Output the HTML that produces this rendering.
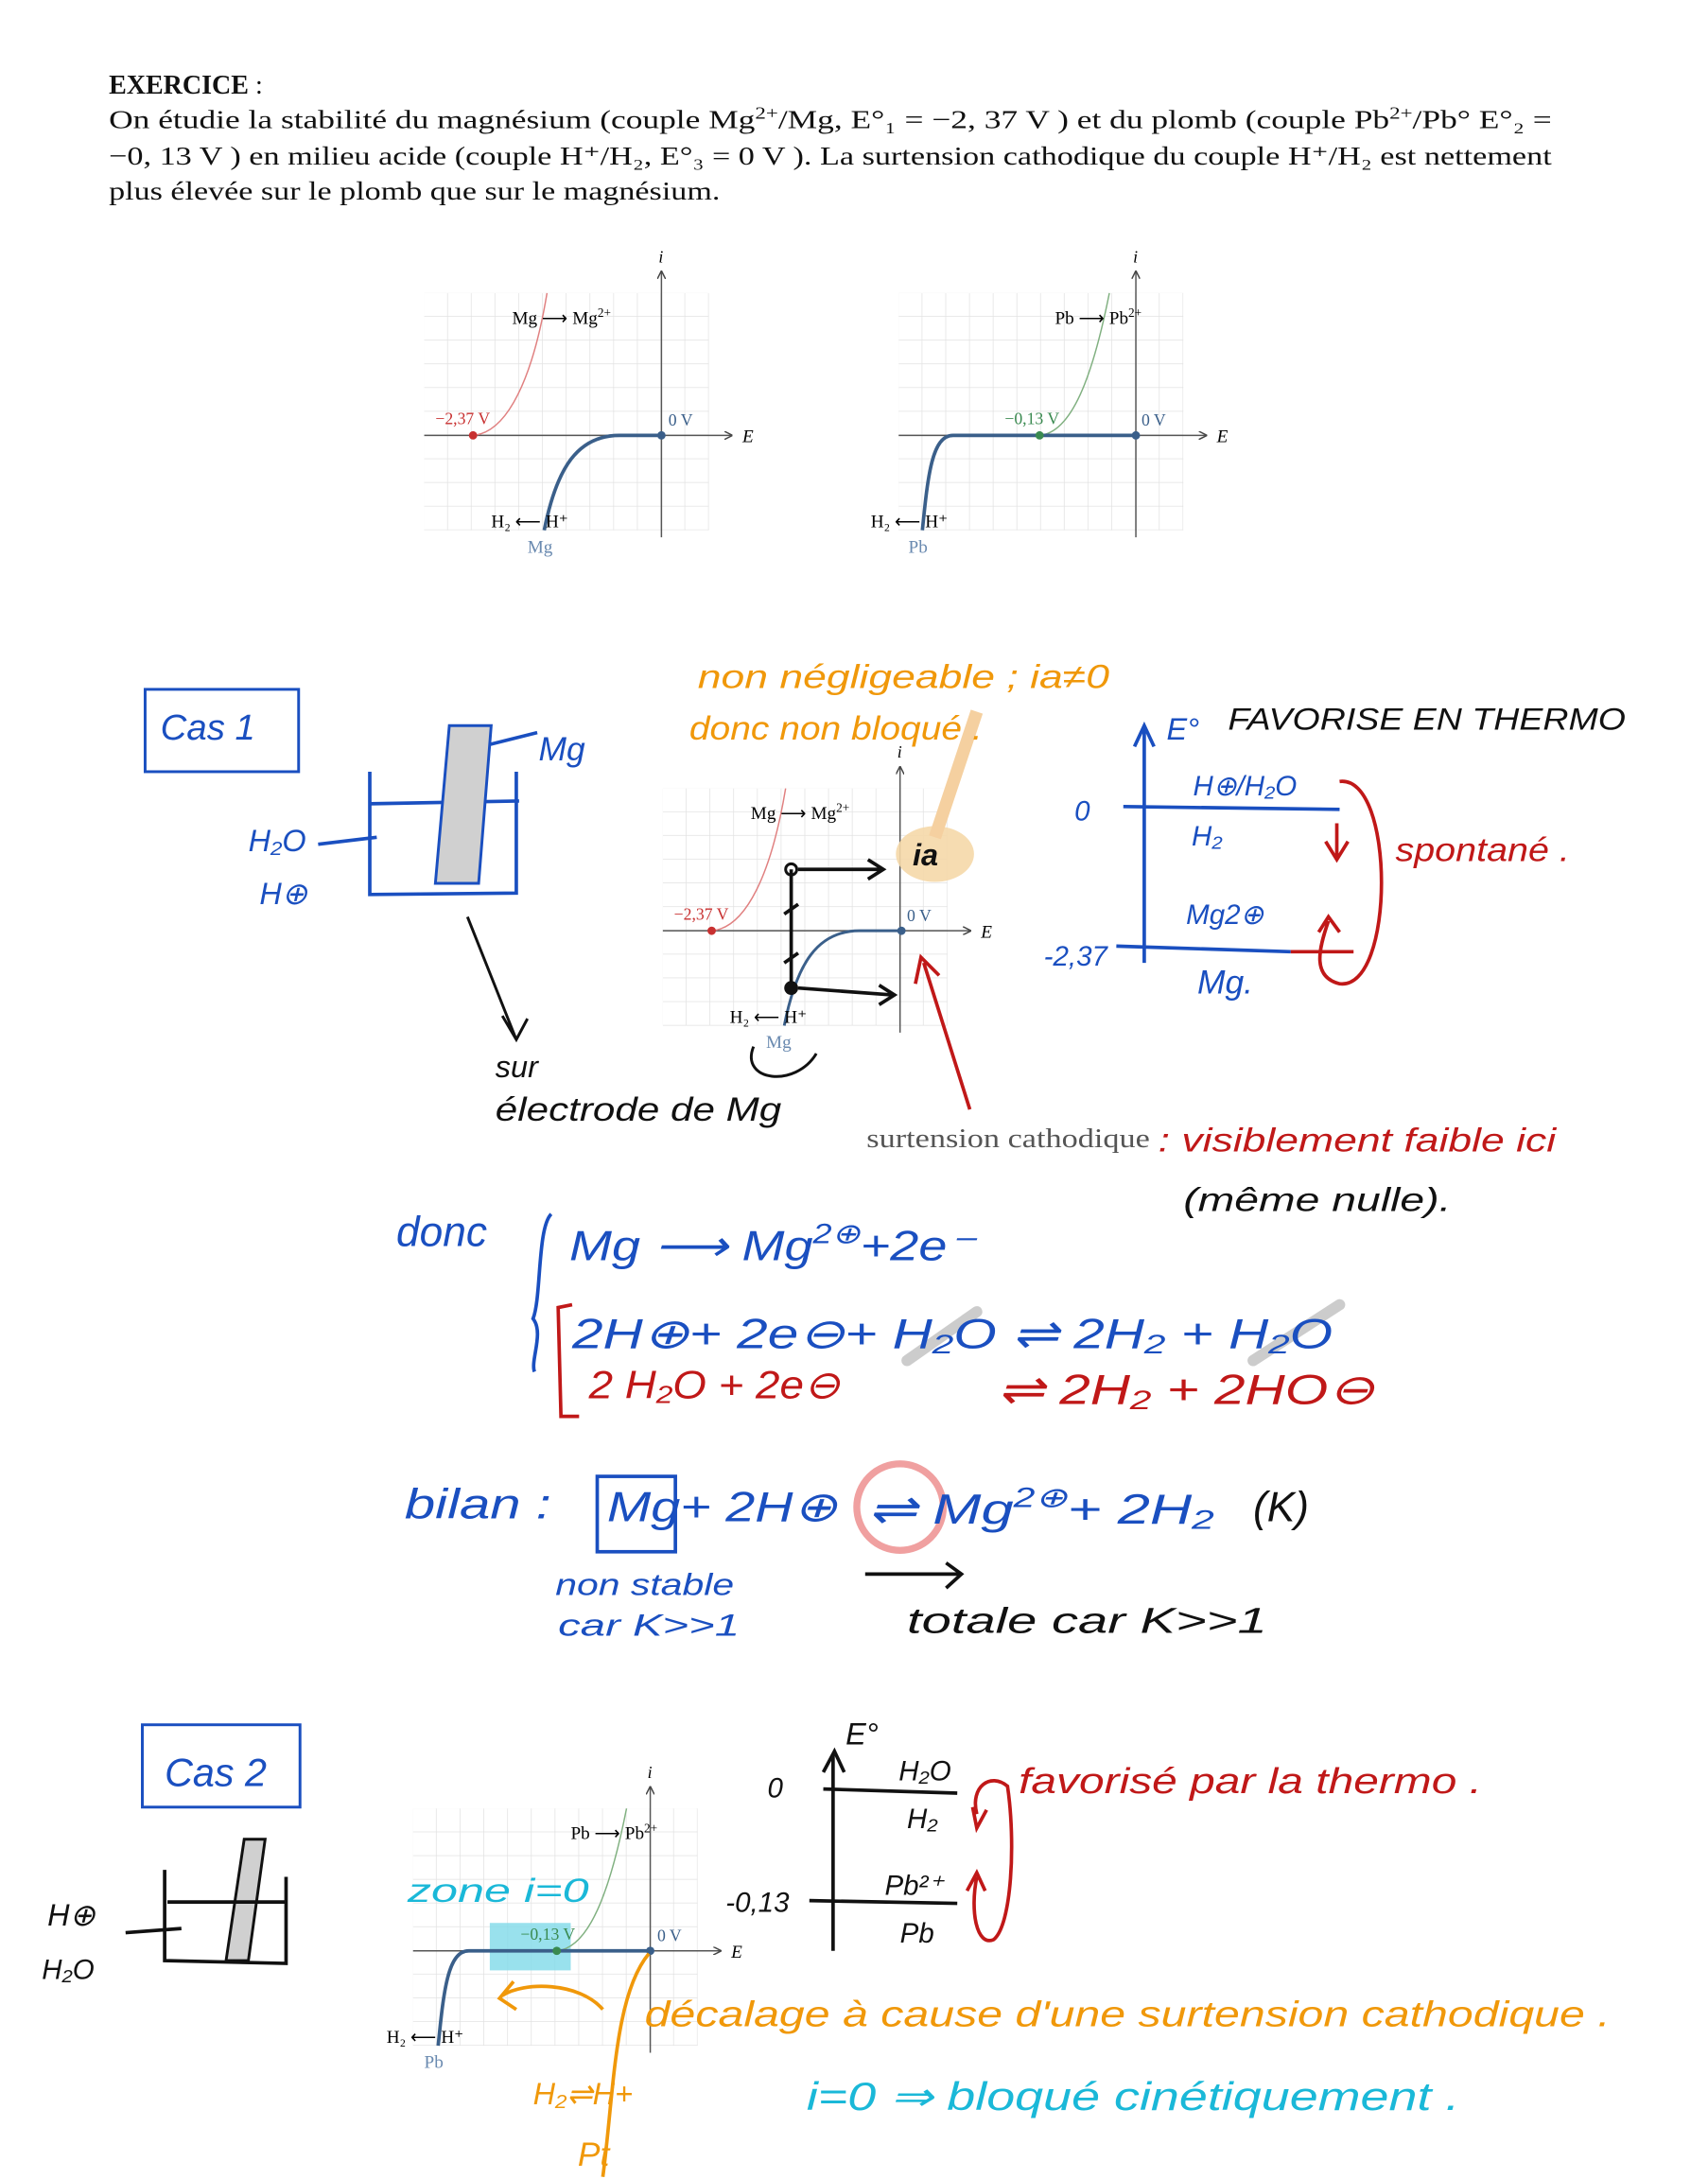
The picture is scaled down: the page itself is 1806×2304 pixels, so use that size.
<!DOCTYPE html>
<html><head><meta charset="utf-8"><style>
html,body{margin:0;padding:0;background:#fff}
svg{display:block}
.s{font-family:"Liberation Serif",serif}
.h{font-family:"Liberation Sans",sans-serif;font-style:italic}
</style></head><body>
<svg width="1806" height="2304" viewBox="0 0 1224 1561.5" preserveAspectRatio="none" xmlns="http://www.w3.org/2000/svg">
<defs>
<pattern id="g" width="17" height="17" patternUnits="userSpaceOnUse"><path d="M17 0V17M0 17H17" stroke="#e2e2e2" stroke-width="1" fill="none"/></pattern>
<marker id="a" markerWidth="6" markerHeight="6" refX="5" refY="3" orient="auto"><path d="M0,0 L6,3 L0,6" fill="none" stroke="#444" stroke-width="1"/></marker>
<g id="g1">
<rect x="0" y="0" width="204" height="170" fill="url(#g)"/>
<line x1="170" y1="175" x2="170" y2="-15" stroke="#555" stroke-width="1" marker-end="url(#a)"/>
<line x1="0" y1="102" x2="220" y2="102" stroke="#555" stroke-width="1" marker-end="url(#a)"/>
<text x="168" y="-22" class="s" font-size="12" font-style="italic">i</text>
<text x="228" y="107" class="s" font-size="13" font-style="italic">E</text>
</g>
</defs>
<g class="s" fill="#111">
<text x="78" y="67" font-size="19" font-weight="bold">EXERCICE <tspan font-weight="normal">:</tspan></text>
<text x="78" y="92" font-size="18.5" textLength="1034" lengthAdjust="spacingAndGlyphs">On étudie la stabilité du magnésium (couple Mg<tspan dy="-7" font-size="12">2+</tspan><tspan dy="7">/Mg, E°₁ = −2, 37 V ) et du plomb (couple Pb</tspan><tspan dy="-7" font-size="12">2+</tspan><tspan dy="7">/Pb° E°₂ =</tspan></text>
<text x="78" y="118" font-size="18.5" textLength="1034" lengthAdjust="spacingAndGlyphs">−0, 13 V ) en milieu acide (couple H⁺/H₂, E°₃ = 0 V ). La surtension cathodique du couple H⁺/H₂ est nettement</text>
<text x="78" y="143" font-size="18.5" textLength="438" lengthAdjust="spacingAndGlyphs">plus élevée sur le plomb que sur le magnésium.</text>
</g>
<!-- graph 1 -->
<g transform="translate(304,210)">
<use href="#g1"/>
<path d="M35,102 C60,100 78,60 88,0" stroke="#e08080" fill="none"/>
<circle cx="35" cy="102" r="3" fill="#c83030"/>
<path d="M170,102 L140,102 C110,102 95,125 86,170" stroke="#3a5f8a" stroke-width="2.5" fill="none"/>
<circle cx="170" cy="102" r="3" fill="#3a5f8a"/>
<text x="8" y="94" class="s" font-size="12" fill="#c83030">−2,37 V</text>
<text x="175" y="95" class="s" font-size="12" fill="#3a5f8a">0 V</text>
<text x="63" y="22" class="s" font-size="13">Mg ⟶ Mg<tspan dy="-5" font-size="9">2+</tspan></text>
<text x="48" y="168" class="s" font-size="13">H₂ ⟵ H⁺</text>
<text x="74" y="186" class="s" font-size="13" fill="#6a8ab0">Mg</text>
</g>
<!-- graph 2 -->
<g transform="translate(643,210)">
<use href="#g1" transform="translate(1,0)"/>
<path d="M102,102 C125,100 140,60 152,0" stroke="#80b080" fill="none"/>
<path d="M171,102 L40,102 C25,102 22,130 18,170" stroke="#3a5f8a" stroke-width="2.5" fill="none"/>
<circle cx="102" cy="102" r="3" fill="#3a8a50"/><circle cx="171" cy="102" r="3" fill="#3a5f8a"/>
<text x="77" y="94" class="s" font-size="12" fill="#3a8a50">−0,13 V</text>
<text x="175" y="95" class="s" font-size="12" fill="#3a5f8a">0 V</text>
<text x="113" y="22" class="s" font-size="13">Pb ⟶ Pb<tspan dy="-5" font-size="9">2+</tspan></text>
<text x="-19" y="168" class="s" font-size="13">H₂ ⟵ H⁺</text>
<text x="8" y="186" class="s" font-size="13" fill="#6a8ab0">Pb</text>
</g>
<!-- Cas 1 -->
<rect x="104" y="494" width="110" height="59" fill="none" stroke="#1a4fc0" stroke-width="2"/>
<text x="115" y="530" class="h" font-size="26" fill="#1a4fc0">Cas 1</text>
<g stroke="#1a4fc0" stroke-width="2.5" fill="none">
<path d="M265,553 V641 L370,640 V553"/><path d="M265,576 L372,574"/>
<path d="M228,605 L270,600"/><path d="M345,535 L385,525"/>
</g>
<path d="M322,520 L352,520 L343,633 L312,633 Z" fill="#d0d0d0" stroke="#1a4fc0" stroke-width="2"/>
<text x="386" y="545" class="h" font-size="24" fill="#1a4fc0">Mg</text>
<text x="178" y="610" class="h" font-size="22" fill="#1a4fc0">H₂O</text>
<text x="186" y="648" class="h" font-size="22" fill="#1a4fc0">H⊕</text>
<path d="M335,657 L370,745 M360,728 L370,745 L378,730" stroke="#111" stroke-width="2" fill="none"/>
<text x="355" y="772" class="h" font-size="22" fill="#111">sur</text>
<text x="355" y="803" class="h" font-size="24" fill="#111" textLength="205" lengthAdjust="spacingAndGlyphs">électrode de Mg</text>
<path d="M540,750 C530,775 570,780 585,755" stroke="#111" stroke-width="2" fill="none"/>
<!-- graph 3 -->
<g transform="translate(475,565)">
<use href="#g1"/>
<path d="M35,102 C60,100 78,60 88,0" stroke="#e08080" fill="none"/>
<circle cx="35" cy="102" r="3" fill="#c83030"/>
<path d="M171,102 L141,102 C111,102 96,125 87,170" stroke="#3a5f8a" stroke-width="2" fill="none"/>
<circle cx="171" cy="102" r="3" fill="#3a5f8a"/>
<text x="8" y="94" class="s" font-size="12" fill="#c83030">−2,37 V</text>
<text x="175" y="95" class="s" font-size="12" fill="#3a5f8a">0 V</text>
<text x="63" y="22" class="s" font-size="13">Mg ⟶ Mg<tspan dy="-5" font-size="9">2+</tspan></text>
<text x="48" y="168" class="s" font-size="13">H₂ ⟵ H⁺</text>
<text x="74" y="186" class="s" font-size="13" fill="#6a8ab0">Mg</text>
</g>
<ellipse cx="670" cy="612" rx="28" ry="20" fill="#f5d8a8" opacity="0.9"/>
<path d="M670,600 L700,510" stroke="#f5d0a0" stroke-width="9" fill="none"/>
<g stroke="#111" stroke-width="2.5" fill="none">
<path d="M567,623 V708"/><path d="M572,623 L632,623 M622,616 L633,623 L622,630"/>
<path d="M572,708 L640,713 M630,706 L641,713 L630,720"/>
<path d="M562,655 L572,648 M562,690 L572,683"/>
</g>
<circle cx="567" cy="623" r="4" fill="none" stroke="#111" stroke-width="2"/><circle cx="567" cy="708" r="5" fill="#111"/>
<text x="654" y="620" class="h" font-size="22" font-weight="bold" fill="#111">ia</text>
<text x="500" y="493" class="h" font-size="24" fill="#f0980a" textLength="295" lengthAdjust="spacingAndGlyphs">non négligeable ; ia≠0</text>
<text x="494" y="530" class="h" font-size="24" fill="#f0980a" textLength="210" lengthAdjust="spacingAndGlyphs">donc non bloqué .</text>
<path d="M695,795 L662,690 M656,705 L660,686 L673,699" stroke="#c01818" stroke-width="2.5" fill="none"/>
<text x="621" y="822" class="s" font-size="19" fill="#555" textLength="203" lengthAdjust="spacingAndGlyphs">surtension cathodique</text>
<text x="830" y="825" class="h" font-size="24" fill="#c01818" textLength="285" lengthAdjust="spacingAndGlyphs">: visiblement faible ici</text>
<text x="848" y="868" class="h" font-size="24" fill="#111" textLength="192" lengthAdjust="spacingAndGlyphs">(même nulle).</text>
<!-- E° diagram 1 -->
<g stroke="#1a4fc0" stroke-width="2.5" fill="none">
<path d="M820,690 V522 M813,535 L820,520 L827,535"/>
<path d="M805,578 L960,580"/><path d="M800,678 L925,682"/>
</g>
<path d="M925,682 L970,682" stroke="#c01818" stroke-width="2.5"/>
<path d="M960,560 C1000,555 1000,710 960,705 C940,700 945,680 952,660 M945,668 L952,657 L960,668 M958,590 L958,615 M950,603 L958,616 L966,603" stroke="#c01818" stroke-width="2.5" fill="none"/>
<text x="836" y="530" class="h" font-size="22" fill="#1a4fc0">E°</text>
<text x="880" y="523" class="h" font-size="22" fill="#111" textLength="285" lengthAdjust="spacingAndGlyphs">FAVORISE  EN THERMO</text>
<text x="770" y="588" class="h" font-size="20" fill="#1a4fc0">0</text>
<text x="855" y="570" class="h" font-size="20" fill="#1a4fc0">H⊕/H₂O</text>
<text x="854" y="606" class="h" font-size="20" fill="#1a4fc0">H₂</text>
<text x="748" y="692" class="h" font-size="20" fill="#1a4fc0">-2,37</text>
<text x="850" y="662" class="h" font-size="20" fill="#1a4fc0">Mg2⊕</text>
<text x="858" y="712" class="h" font-size="24" fill="#1a4fc0">Mg.</text>
<text x="1000" y="617" class="h" font-size="24" fill="#c01818" textLength="125" lengthAdjust="spacingAndGlyphs">spontané .</text>
<!-- donc -->
<text x="284" y="893" class="h" font-size="30" fill="#1a4fc0">donc</text>
<path d="M395,870 C385,880 388,930 382,945 C390,955 380,975 383,983" stroke="#1a4fc0" stroke-width="2.5" fill="none"/>
<path d="M410,935 L400,937 L402,1015 L415,1015" stroke="#c01818" stroke-width="2.5" fill="none"/>
<text x="408" y="903" class="h" font-size="30" fill="#1a4fc0" textLength="290" lengthAdjust="spacingAndGlyphs">Mg ⟶ Mg<tspan dy="-12" font-size="20">2⊕</tspan><tspan dy="12">+2e⁻</tspan></text>
<path d="M650,975 L700,940 M898,975 L960,935" stroke="#ccc" stroke-width="8" stroke-linecap="round"/>
<text x="410" y="966" class="h" font-size="30" fill="#1a4fc0" textLength="545" lengthAdjust="spacingAndGlyphs">2H⊕+ 2e⊖+ H₂O ⇌ 2H₂ + H₂O</text>
<text x="422" y="1002" class="h" font-size="28" fill="#c01818" textLength="180" lengthAdjust="spacingAndGlyphs">2 H₂O + 2e⊖</text>
<text x="715" y="1006" class="h" font-size="30" fill="#c01818" textLength="270" lengthAdjust="spacingAndGlyphs">⇌ 2H₂ + 2HO⊖</text>
<!-- bilan -->
<text x="290" y="1088" class="h" font-size="30" fill="#1a4fc0" textLength="105" lengthAdjust="spacingAndGlyphs">bilan :</text>
<rect x="428" y="1058" width="56" height="54" fill="none" stroke="#1a4fc0" stroke-width="2.5"/>
<circle cx="645" cy="1080" r="31" fill="none" stroke="#f0a0a0" stroke-width="5"/>
<text x="435" y="1090" class="h" font-size="30" fill="#1a4fc0" textLength="165" lengthAdjust="spacingAndGlyphs">Mg+ 2H⊕</text>
<text x="622" y="1092" class="h" font-size="30" fill="#1a4fc0" textLength="248" lengthAdjust="spacingAndGlyphs">⇌ Mg<tspan dy="-12" font-size="20">2⊕</tspan><tspan dy="12">+ 2H₂</tspan></text>
<text x="898" y="1090" class="h" font-size="30" fill="#111">(K)</text>
<text x="398" y="1143" class="h" font-size="22" fill="#1a4fc0" textLength="128" lengthAdjust="spacingAndGlyphs">non stable</text>
<text x="400" y="1172" class="h" font-size="22" fill="#1a4fc0" textLength="130" lengthAdjust="spacingAndGlyphs">car K>>1</text>
<path d="M620,1128 L688,1128 M678,1120 L689,1128 L678,1138" stroke="#111" stroke-width="2.5" fill="none"/>
<text x="650" y="1170" class="h" font-size="26" fill="#111" textLength="258" lengthAdjust="spacingAndGlyphs">totale car K>>1</text>
<!-- Cas 2 -->
<rect x="102" y="1236" width="113" height="59" fill="none" stroke="#1a4fc0" stroke-width="2"/>
<text x="118" y="1280" class="h" font-size="28" fill="#1a4fc0">Cas 2</text>
<path d="M175,1318 L190,1318 L178,1405 L162,1405 Z" fill="#d0d0d0" stroke="#111" stroke-width="2"/>
<g stroke="#111" stroke-width="2.5" fill="none"><path d="M118,1340 V1405 L205,1407 V1345"/><path d="M120,1363 L205,1363"/><path d="M90,1385 L130,1382"/></g>
<text x="34" y="1380" class="h" font-size="22" fill="#111">H⊕</text>
<text x="30" y="1418" class="h" font-size="20" fill="#111">H₂O</text>
<!-- graph 4 -->
<g transform="translate(296,1296)">
<use href="#g1"/>
<rect x="55" y="82" width="58" height="34" fill="#7fd9e8" opacity="0.8"/>
<path d="M103,102 C126,100 141,60 153,0" stroke="#80b080" fill="none"/>
<path d="M170,102 L40,102 C25,102 22,130 18,170" stroke="#3a5f8a" stroke-width="2.5" fill="none"/>
<circle cx="103" cy="102" r="3" fill="#3a8a50"/><circle cx="170" cy="102" r="3" fill="#3a5f8a"/>
<text x="77" y="94" class="s" font-size="12" fill="#3a8a50">−0,13 V</text>
<text x="175" y="95" class="s" font-size="12" fill="#3a5f8a">0 V</text>
<text x="113" y="22" class="s" font-size="13">Pb ⟶ Pb<tspan dy="-5" font-size="9">2+</tspan></text>
<text x="-19" y="168" class="s" font-size="13">H₂ ⟵ H⁺</text>
<text x="8" y="186" class="s" font-size="13" fill="#6a8ab0">Pb</text>
</g>
<text x="292" y="1363" class="h" font-size="24" fill="#1ab8d8" textLength="130" lengthAdjust="spacingAndGlyphs">zone i=0</text>
<path d="M465,1400 C440,1430 440,1500 432,1560" stroke="#f0980a" stroke-width="2.5" fill="none"/>
<path d="M432,1440 C415,1420 375,1420 360,1430 M368,1420 L358,1432 L370,1440" stroke="#f0980a" stroke-width="2.5" fill="none"/>
<text x="382" y="1508" class="h" font-size="22" fill="#f0980a">H₂⇌H+</text>
<text x="414" y="1552" class="h" font-size="24" fill="#f0980a">Pt</text>
<text x="462" y="1452" class="h" font-size="26" fill="#f0980a" textLength="692" lengthAdjust="spacingAndGlyphs">décalage à cause d'une surtension cathodique .</text>
<text x="578" y="1512" class="h" font-size="28" fill="#1ab8d8" textLength="468" lengthAdjust="spacingAndGlyphs">i=0 ⇒ bloqué cinétiquement .</text>
<!-- E° diagram 2 -->
<g stroke="#111" stroke-width="2.5" fill="none">
<path d="M597,1398 V1258 M590,1270 L598,1255 L605,1270"/>
<path d="M590,1282 L686,1285"/><path d="M580,1362 L686,1364"/>
</g>
<path d="M700,1300 C695,1280 710,1270 722,1280 C728,1320 725,1380 712,1390 C700,1395 695,1370 700,1345 M693,1355 L700,1342 L706,1355 M697,1295 L700,1310 L707,1297" stroke="#c01818" stroke-width="2.5" fill="none"/>
<text x="606" y="1250" class="h" font-size="22" fill="#111">E°</text>
<text x="550" y="1288" class="h" font-size="20" fill="#111">0</text>
<text x="644" y="1276" class="h" font-size="20" fill="#111">H₂O</text>
<text x="650" y="1310" class="h" font-size="20" fill="#111">H₂</text>
<text x="520" y="1370" class="h" font-size="20" fill="#111">-0,13</text>
<text x="634" y="1358" class="h" font-size="20" fill="#111">Pb²⁺</text>
<text x="645" y="1392" class="h" font-size="20" fill="#111">Pb</text>
<text x="730" y="1285" class="h" font-size="26" fill="#c01818" textLength="332" lengthAdjust="spacingAndGlyphs">favorisé par la thermo    .</text>
</svg>
</body></html>
